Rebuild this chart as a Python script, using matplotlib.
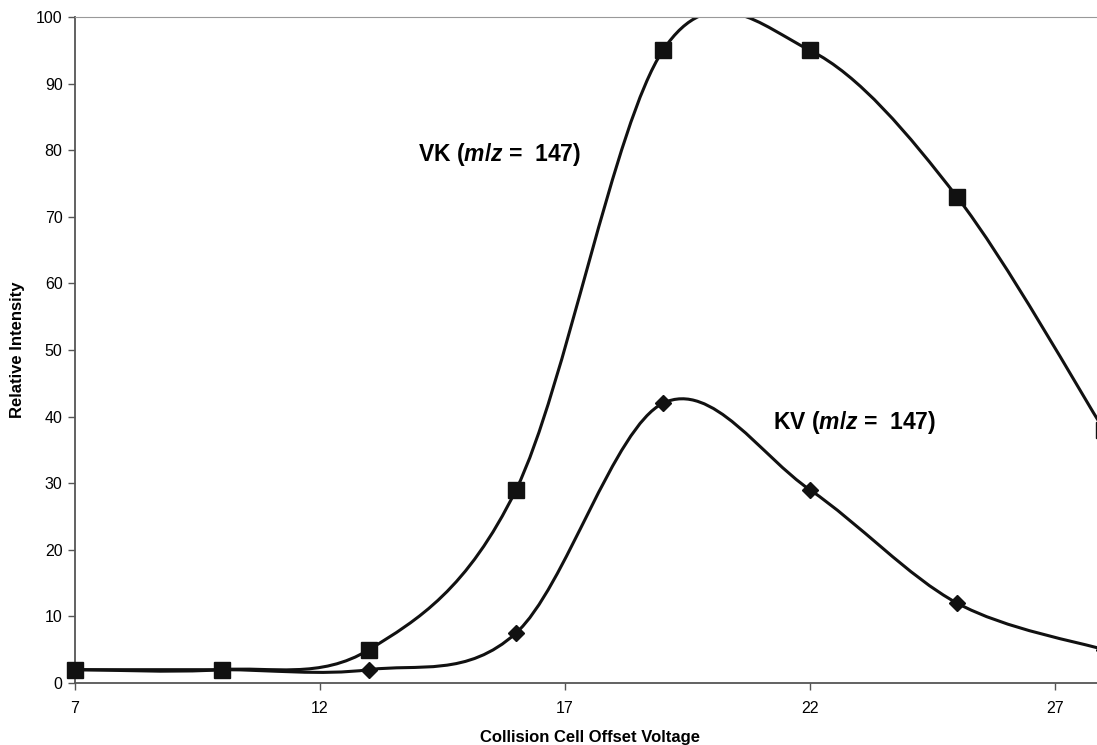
import numpy as np
import matplotlib
matplotlib.use("Agg")
import matplotlib.pyplot as plt
from matplotlib.path import Path
from matplotlib.patches import PathPatch

plt.rcParams['font.family'] = ['Liberation Sans', 'DejaVu Sans']
plt.rcParams['mathtext.fontset'] = 'custom'
plt.rcParams['mathtext.it'] = 'Liberation Sans:bold:italic'
plt.rcParams['mathtext.rm'] = 'Liberation Sans:bold'

voltage = [7, 10, 13, 16, 19, 22, 25, 28]
vk = [2, 2, 5, 29, 95, 95, 73, 38]
kv = [2, 2, 2, 7.5, 42, 29, 12, 5]
x_ticks = [7, 12, 17, 22, 27]
y_ticks = list(range(0, 101, 10))

W, H = 1097, 745


def smooth_path(xs, ys):
    # excel-style smoothed line: cubic bezier with catmull-rom tangents
    pts = np.column_stack([xs, ys]).astype(float)
    n = len(pts)
    verts = [pts[0]]
    codes = [Path.MOVETO]
    for i in range(n - 1):
        p0 = pts[max(i - 1, 0)]
        p1 = pts[i]
        p2 = pts[i + 1]
        p3 = pts[min(i + 2, n - 1)]
        verts += [p1 + (p2 - p0) / 6, p2 - (p3 - p1) / 6, p2]
        codes += [Path.CURVE4] * 3
    return Path(verts, codes)


fig = plt.figure(figsize=(W / 100, H / 100), dpi=100)
ax = fig.add_axes([75 / W, 1 - 683 / H, 1029 / W, 666 / H])

for ys in (kv, vk):
    ax.add_patch(PathPatch(smooth_path(voltage, ys), fill=False,
                           edgecolor='#111111', lw=2.2, zorder=2))

ax.plot(voltage, kv, linestyle='none', marker='D', markersize=8,
        color='#111111', zorder=3, clip_on=False)
ax.plot(voltage, vk, linestyle='none', marker='s', markersize=12,
        color='#111111', zorder=4, clip_on=False)

ax.set_xlim(7, 28)
ax.set_ylim(0, 100)
ax.set_xticks(x_ticks)
ax.set_yticks(y_ticks)
ax.tick_params(axis='both', labelsize=11.5, length=5, width=1,
               color='#555555', pad=4)
ax.tick_params(axis='x', pad=8)

ax.spines['right'].set_visible(False)
ax.spines['top'].set_color('#999999')
ax.spines['left'].set_color('#555555')
ax.spines['bottom'].set_color('#555555')
ax.spines['left'].set_linewidth(1.3)
ax.spines['bottom'].set_linewidth(1.3)

ax.set_xlabel('Collision Cell Offset Voltage', fontsize=12, fontweight='bold',
              labelpad=10)
ax.set_ylabel('Relative Intensity', fontsize=12, fontweight='bold', labelpad=8)

ax.text(418, H - 155, r'VK ($m/z$ =  147)', transform=None, fontsize=16.5,
        fontweight='bold', va='center', ha='left')
ax.text(773, H - 422, r'KV ($m/z$ =  147)', transform=None, fontsize=16.5,
        fontweight='bold', va='center', ha='left')

fig.savefig('out.png', dpi=100)
